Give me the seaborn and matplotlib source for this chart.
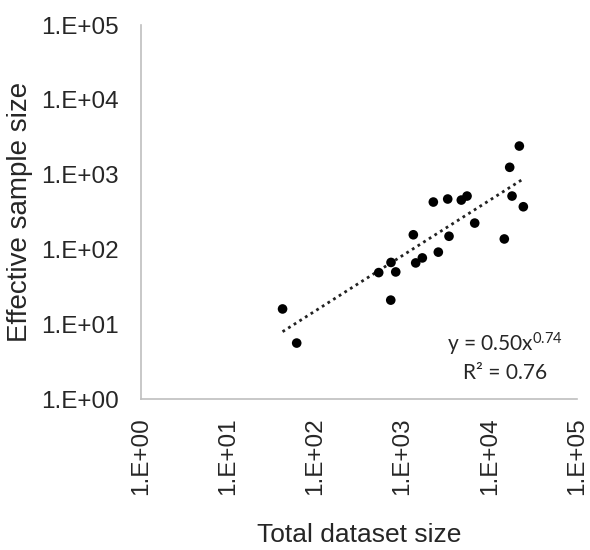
import numpy as np
import pandas as pd
import matplotlib
matplotlib.use("Agg")
import matplotlib.pyplot as plt
import seaborn as sns

# Total dataset size vs effective sample size for each study
total_size = [42, 61, 532, 736, 834, 731, 1327, 1413, 1683, 2250, 2567,
              3290, 3405, 4710, 5480, 6710, 14660, 16900, 17980, 21800, 24230]
effective_size = [16, 5.6, 49, 67, 50, 21, 157, 66, 77, 430, 92,
                  472, 150, 457, 517, 225, 138, 1253, 517, 2410, 372]

# Power-law trend: y = a * x^b
fit_coef = 0.50
fit_exp = 0.74
r_squared = 0.76

tick_values = [1e0, 1e1, 1e2, 1e3, 1e4, 1e5]
tick_labels = ["1.E+00", "1.E+01", "1.E+02", "1.E+03", "1.E+04", "1.E+05"]

sns.set_style("white")
plt.rcParams["font.family"] = ["Liberation Sans", "DejaVu Sans"]
plt.rcParams["mathtext.fontset"] = "custom"
plt.rcParams["mathtext.rm"] = "Lato"
plt.rcParams["mathtext.it"] = "Lato"

df = pd.DataFrame({"total": total_size, "effective": effective_size})
x_fit = np.logspace(np.log10(min(total_size)), np.log10(max(total_size)), 100)
trend = pd.DataFrame({"total": x_fit, "effective": fit_coef * x_fit ** fit_exp})

fig = plt.figure(figsize=(5.9, 5.5), dpi=100)
ax = fig.add_axes([0.239, 0.2745, 0.739, 0.68])

sns.lineplot(data=trend, x="total", y="effective", ax=ax, color="#222222",
             linewidth=2, linestyle=(0, (1, 1.4)), zorder=2)
sns.scatterplot(data=df, x="total", y="effective", ax=ax, color="black",
                s=48, edgecolor="none", zorder=3)

ax.set_xscale("log")
ax.set_yscale("log")
ax.set_xlim(1e0, 1e5)
ax.set_ylim(1e0, 1e5)
ax.set_xticks(tick_values)
ax.set_xticklabels(tick_labels, rotation=90, fontsize=17.5)
ax.set_yticks(tick_values)
ax.set_yticklabels(tick_labels, fontsize=17.5)
ax.minorticks_off()
ax.tick_params(axis="x", length=0, pad=13)
ax.tick_params(axis="y", length=0, pad=16)

for side in ["top", "right"]:
    ax.spines[side].set_visible(False)
for side in ["left", "bottom"]:
    ax.spines[side].set_color("#bfbfbf")
    ax.spines[side].set_linewidth(1.2)

ax.set_xlabel("Total dataset size", fontsize=19, labelpad=20)
ax.set_ylabel("Effective sample size", fontsize=20, labelpad=6)

ax.text(0.835, 0.145, f"y = {fit_coef:.2f}x$^{{{fit_exp:.2f}}}$",
        transform=ax.transAxes, ha="center", va="center",
        fontsize=15, family="Lato")
ax.text(0.835, 0.07, f"R² = {r_squared:.2f}",
        transform=ax.transAxes, ha="center", va="center",
        fontsize=15, family="Lato")

fig.savefig("out.png", dpi=100)
